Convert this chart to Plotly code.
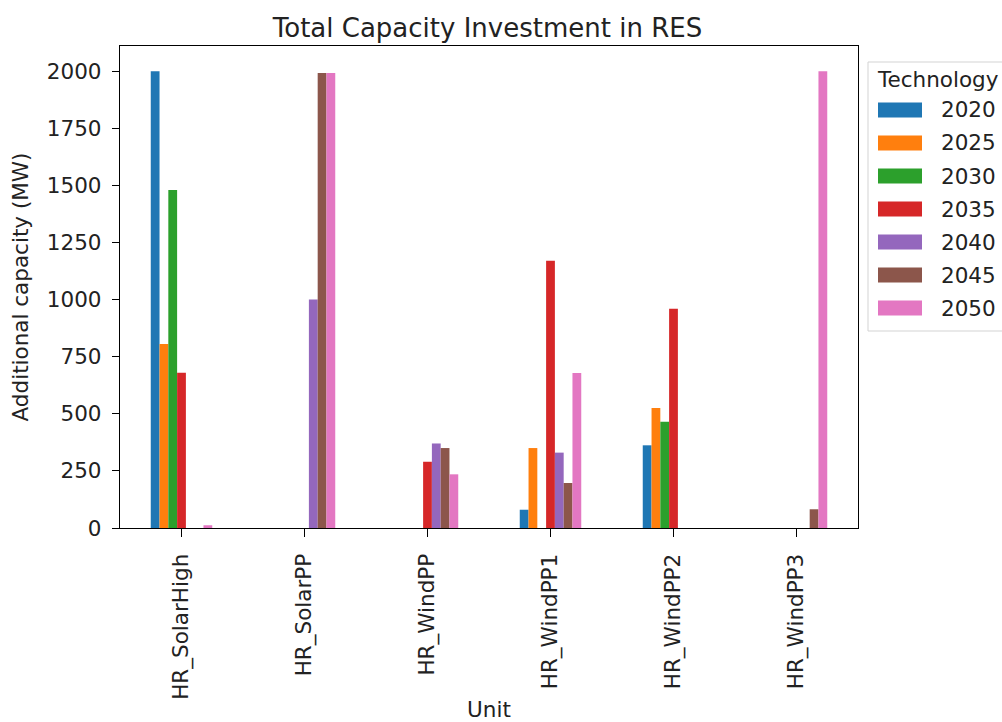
import plotly.graph_objects as go

# Units on the x axis and investment years shown as grouped bars
units = ["HR_SolarHigh", "HR_SolarPP", "HR_WindPP", "HR_WindPP1", "HR_WindPP2", "HR_WindPP3"]
years = ["2020", "2025", "2030", "2035", "2040", "2045", "2050"]

# Additional capacity (MW) per unit, one list per year
cap_2020 = [2000, 0, 0, 80, 362, 0]
cap_2025 = [805, 0, 0, 350, 525, 0]
cap_2030 = [1480, 0, 0, 0, 465, 0]
cap_2035 = [680, 0, 290, 1170, 960, 0]
cap_2040 = [0, 1000, 370, 330, 0, 0]
cap_2045 = [0, 1992, 350, 197, 0, 82]
cap_2050 = [12, 1992, 235, 678, 0, 2000]

series = [cap_2020, cap_2025, cap_2030, cap_2035, cap_2040, cap_2045, cap_2050]
colors = ["#1f77b4", "#ff7f0e", "#2ca02c", "#d62728", "#9467bd", "#8c564b", "#e377c2"]

y_ticks = [0, 250, 500, 750, 1000, 1250, 1500, 1750, 2000]

FONT = "DejaVu Sans"
TXT = "#222222"
FS = 21.5

W, H = 1002, 722
ML, MR, MT, MB = 120, 144, 46, 194
PW, PH = W - ML - MR, H - MT - MB


def px_x(px):
    """pixel column -> paper x"""
    return (px - ML) / PW


def px_y(py):
    """pixel row -> paper y"""
    return (H - MB - py) / PH


fig = go.Figure()
for yr, vals, col in zip(years, series, colors):
    fig.add_trace(go.Bar(
        x=units, y=vals, name=yr, marker=dict(color=col, line=dict(width=0)),
        showlegend=False,
    ))

# Legend panel: framed box with a title and one wide swatch per year
shapes = [dict(
    type="rect", xref="paper", yref="paper",
    x0=px_x(868), x1=px_x(1012), y0=px_y(331), y1=px_y(62),
    line=dict(color="#d3d3d3", width=1), fillcolor="white", layer="above",
)]
annotations = [dict(
    text="Technology", xref="paper", yref="paper", x=px_x(875), y=px_y(79),
    xanchor="left", yanchor="middle", showarrow=False,
    font=dict(family=FONT, size=FS, color=TXT),
)]
for i, (yr, col) in enumerate(zip(years, colors)):
    cy = 110 + 33 * i
    shapes.append(dict(
        type="rect", xref="paper", yref="paper",
        x0=px_x(878), x1=px_x(922), y0=px_y(cy + 7.5), y1=px_y(cy - 7.5),
        line=dict(width=0), fillcolor=col, layer="above",
    ))
    annotations.append(dict(
        text=yr, xref="paper", yref="paper", x=px_x(939), y=px_y(cy),
        xanchor="left", yanchor="middle", showarrow=False,
        font=dict(family=FONT, size=FS, color=TXT),
    ))

fig.update_layout(
    width=W, height=H,
    barmode="group", bargap=0.5, bargroupgap=0,
    plot_bgcolor="white", paper_bgcolor="white",
    margin=dict(l=ML, r=MR, t=MT, b=MB, autoexpand=False),
    font=dict(family=FONT, size=FS, color=TXT),
    title=dict(text="Total Capacity Investment in RES", x=0.4865, xanchor="center",
               y=1 - 28 / H, yanchor="middle", yref="container",
               font=dict(family=FONT, size=26, color=TXT)),
    shapes=shapes,
    annotations=annotations,
)

fig.update_xaxes(
    type="category", range=[-0.5, 5.5], tickangle=-90,
    showline=True, linecolor="black", linewidth=1.3, mirror=True,
    ticks="outside", ticklen=8, tickwidth=1.3, tickcolor="black",
    ticklabelstandoff=8,
    showgrid=False, zeroline=False,
    tickfont=dict(family=FONT, size=FS, color=TXT),
    title=dict(text="Unit", standoff=5, font=dict(family=FONT, size=FS, color=TXT)),
)
fig.update_yaxes(
    range=[0, 2110], tickmode="array", tickvals=y_ticks,
    showline=True, linecolor="black", linewidth=1.3, mirror=True,
    ticks="outside", ticklen=7, tickwidth=1.3, tickcolor="black",
    ticklabelstandoff=6,
    showgrid=False, zeroline=False,
    tickfont=dict(family=FONT, size=FS, color=TXT),
    title=dict(text="Additional capacity (MW)", standoff=12,
               font=dict(family=FONT, size=FS, color=TXT)),
)

fig.write_html("out.html")
